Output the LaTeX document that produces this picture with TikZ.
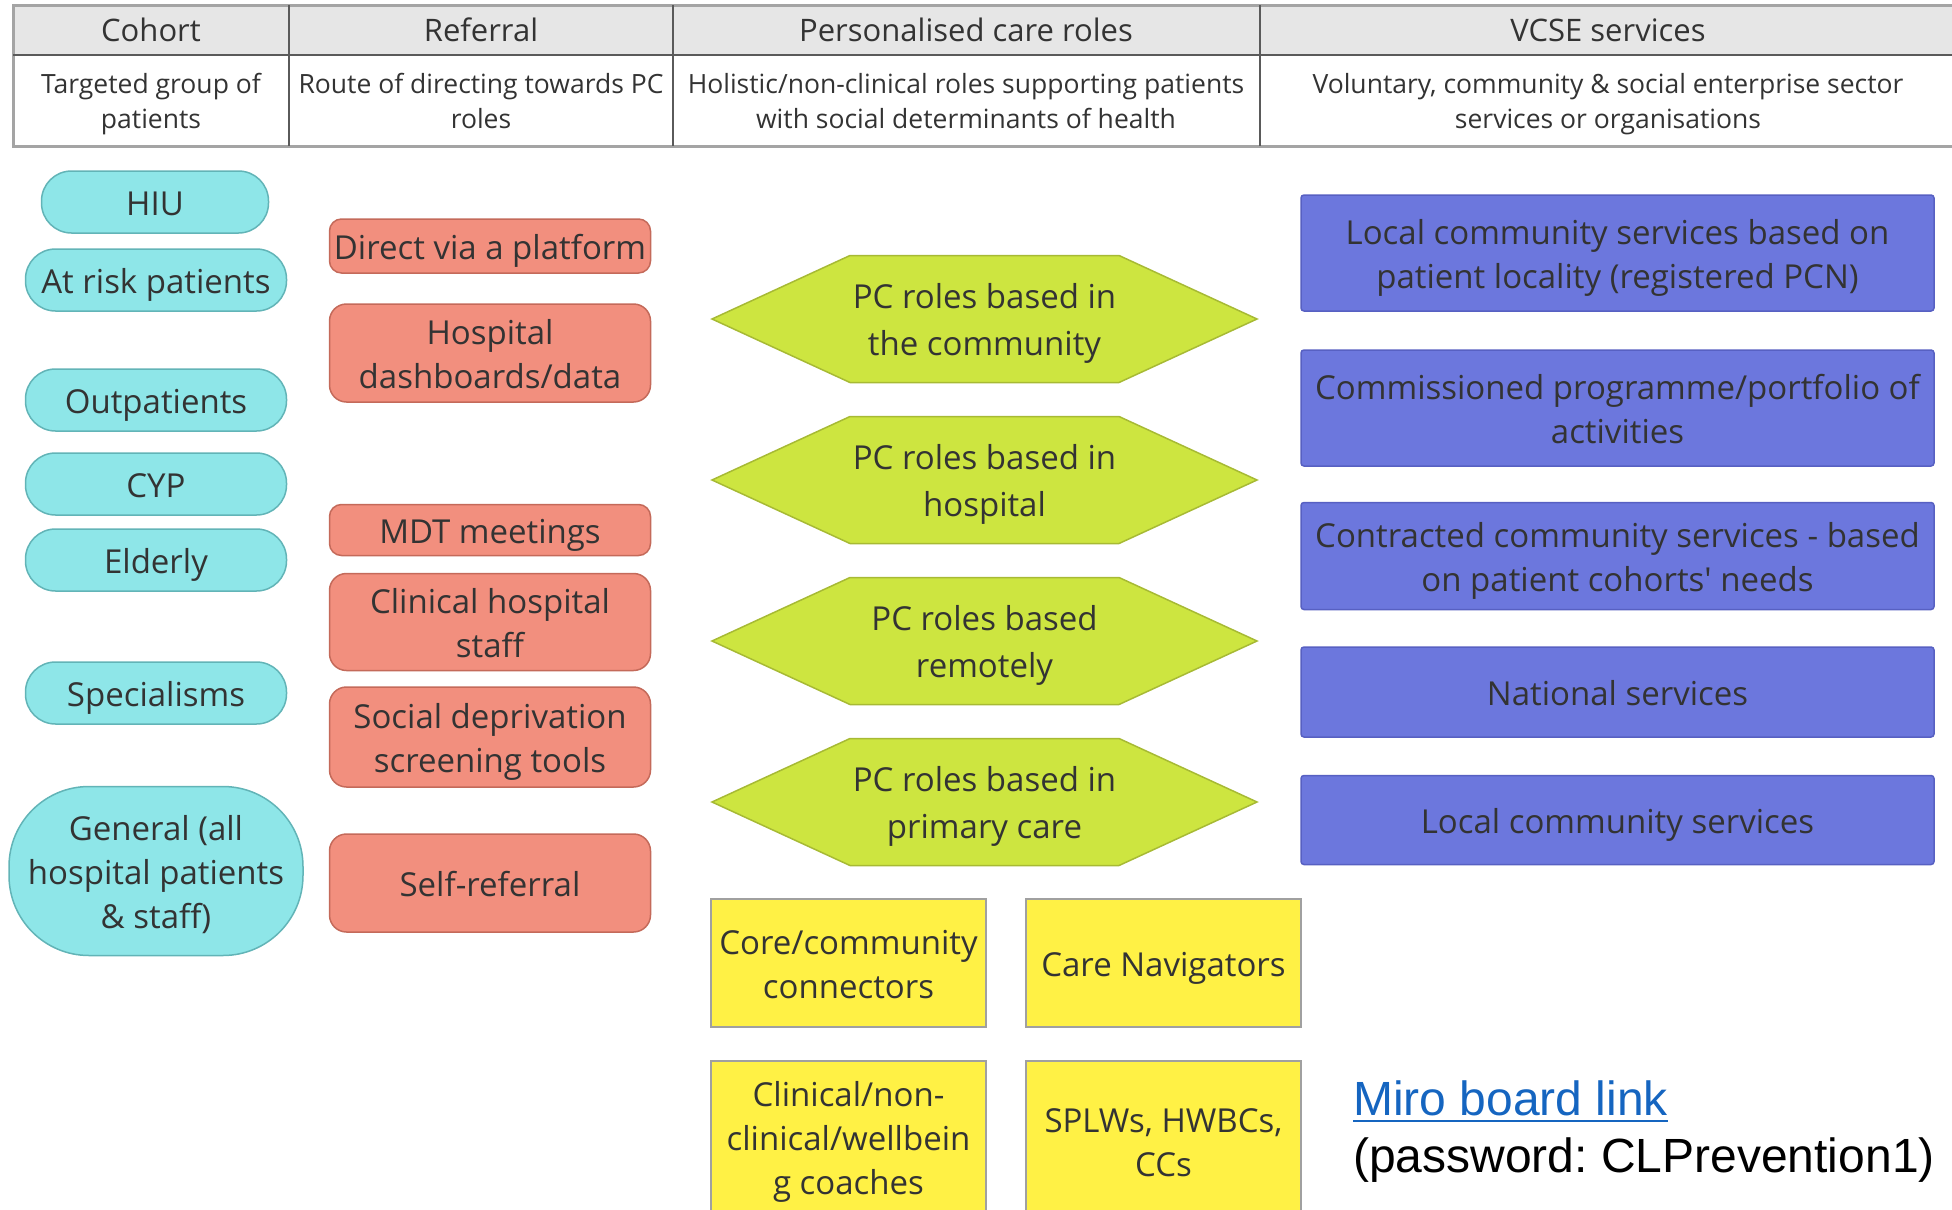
\documentclass[tikz,border=0pt]{standalone}
\usepackage{fontspec}
\setmainfont{Open Sans}
\newfontfamily\arialfont{Liberation Sans}
\usetikzlibrary{positioning}
\frenchspacing
\definecolor{cohortFill}{HTML}{8EE6E8}
\definecolor{cohortLine}{HTML}{62B4B7}
\definecolor{referFill}{HTML}{F28F7E}
\definecolor{referLine}{HTML}{C46A5A}
\definecolor{hexFill}{HTML}{CDE540}
\definecolor{hexLine}{HTML}{A7BA34}
\definecolor{vcseFill}{HTML}{6C77DD}
\definecolor{vcseLine}{HTML}{5760C2}
\definecolor{roleFill}{HTML}{FFF145}
\definecolor{roleLine}{HTML}{A0A0A0}
\definecolor{headFill}{HTML}{E6E6E6}
\definecolor{gridLine}{HTML}{5A5A5A}
\definecolor{txt}{HTML}{333333}
\definecolor{linkBlue}{HTML}{1565C0}
\newcommand{\boxfont}{\fontsize{33}{44}\selectfont}
\newcommand{\hexfont}{\fontsize{33}{47}\selectfont}
\newcommand{\headfont}{\fontsize{31}{36}\selectfont}
\newcommand{\subfont}{\fontsize{26.5}{35}\selectfont}
\newcommand{\notefont}{\arialfont\fontsize{48}{57}\selectfont}
% fixed line boxes, so text sits as in the board
\newcommand{\padtext}[1]{\rule{0pt}{35pt}#1\rule[-9pt]{0pt}{9pt}}
\newcommand{\padsub}[1]{\rule{0pt}{27pt}#1\rule[-8pt]{0pt}{8pt}}

\begin{document}
\begin{tikzpicture}[x=1pt, y=-1pt,
    cohort/.style={draw=cohortLine, fill=cohortFill, line width=1.5pt, rounded corners=30pt, minimum width=261pt, minimum height=62pt, align=center, font=\boxfont, text=txt},
    referral/.style={draw=referLine, fill=referFill, line width=1.5pt, rounded corners=17pt, minimum width=321pt, align=center, font=\boxfont, text=txt},
    hexrole/.style={draw=hexLine, fill=hexFill, line width=1.5pt},
    hextext/.style={align=center, font=\hexfont, text=txt},
    vcse/.style={draw=vcseLine, fill=vcseFill, line width=1.5pt, rounded corners=3pt, minimum width=633pt, align=center, font=\boxfont, text=txt},
    pcrole/.style={draw=roleLine, fill=roleFill, line width=2pt, minimum width=275pt, minimum height=128pt, inner sep=0pt, align=center, font=\boxfont, text=txt},
    headtext/.style={font=\headfont, text=txt},
    subtext/.style={align=center, font=\subfont, text=txt}]
  \useasboundingbox (0,0) rectangle (1952,1210);
  \clip (0,0) rectangle (1952,1210);

  % header table
  \fill[headFill] (13,5) rectangle (1960,55);
  \draw[gridLine!55, line width=3pt] (13,5) rectangle (1960,146);
  \draw[gridLine, line width=1.5pt] (13,55) -- (1960,55);
  \foreach \x in {289,673,1260}
    \draw[gridLine, line width=1.5pt] (\x,5) -- (\x,146);
  \node[headtext] (hcohort) at (151,30) {Cohort};
  \node[headtext] (hrefer) at (481,30) {Referral};
  \node[headtext] (hroles) at (966,30) {Personalised care roles};
  \node[headtext] (hvcse) at (1608,30) {VCSE services};
  \node[subtext] (scohort) at (151,101) {\padsub{Targeted group of\\patients}};
  \node[subtext] (srefer) at (481,101) {\padsub{Route of directing towards PC\\roles}};
  \node[subtext] (sroles) at (966,101) {\padsub{Holistic/non-clinical roles supporting patients\\with social determinants of health}};
  \node[subtext] (svcse) at (1608,101) {\padsub{Voluntary, community \& social enterprise sector\\services or organisations}};

  % cohort
  \node[cohort, minimum width=227pt] (hiu) at (155,202) {\padtext{HIU}};
  \node[cohort] (atrisk) at (156,280) {\padtext{At risk patients}};
  \node[cohort] (outpat) at (156,400) {\padtext{Outpatients}};
  \node[cohort] (cyp) at (156,484) {\padtext{CYP}};
  \node[cohort] (elderly) at (156,560) {\padtext{Elderly}};
  \node[cohort] (special) at (156,693) {\padtext{Specialisms}};
  \node[cohort, minimum width=294pt, minimum height=169pt, rounded corners=80pt] (general) at (156,871) {\padtext{General (all\\hospital patients\\\& staff)}};

  % referral
  \node[referral, minimum height=54pt, rounded corners=12pt] (direct) at (490,246) {\padtext{Direct via a platform}};
  \node[referral, minimum height=98pt] (dash) at (490,353) {\padtext{Hospital\\dashboards/data}};
  \node[referral, minimum height=51pt, rounded corners=12pt] (mdt) at (490,530) {\padtext{MDT meetings}};
  \node[referral, minimum height=97pt] (clinstaff) at (490,622) {\padtext{Clinical hospital\\staff}};
  \node[referral, minimum height=100pt] (screen) at (490,737) {\padtext{Social deprivation\\screening tools}};
  \node[referral, minimum height=98pt] (selfref) at (490,883) {\padtext{Self-referral}};

  % personalised care roles
  \foreach \y/\name/\txt in {319/pccom/{PC roles based in\\the community},
      480/pchosp/{PC roles based in\\hospital},
      641/pcremote/{PC roles based\\remotely},
      802/pcprim/{PC roles based in\\primary care}}{
    \draw[hexrole] (712,\y) -- ++(138,-63.5) -- ++(269,0) -- ++(138,63.5)
      -- ++(-138,63.5) -- ++(-269,0) -- cycle;
    \node[hextext] (\name) at (984.5,\y) {\padtext{\txt}};
  }
  \node[pcrole] (core) at (848.5,963) {\padtext{Core/community\\connectors}};
  \node[pcrole] (navig) at (1163.5,963) {\padtext{Care Navigators}};
  \node[pcrole, minimum height=152pt] (coach) at (848.5,1137) {\padtext{Clinical/non-\\clinical/wellbein\\g coaches}};
  \node[pcrole, minimum height=160pt] (splw) at (1163.5,1141) {\padtext{SPLWs, HWBCs,\\CCs}};

  % vcse services
  \node[vcse, minimum height=116pt] (local) at (1617.5,253) {\padtext{Local community services based on\\patient locality (registered PCN)}};
  \node[vcse, minimum height=116pt] (commis) at (1617.5,408) {\padtext{Commissioned programme/portfolio of\\activities}};
  \node[vcse, minimum height=107pt] (contract) at (1617.5,556) {\padtext{Contracted community services - based\\on patient cohorts\textquotesingle{} needs}};
  \node[vcse, minimum height=90pt] (national) at (1617.5,692) {\padtext{National services}};
  \node[vcse, minimum height=89pt] (localsrv) at (1617.5,820) {\padtext{Local community services}};

  % link note
  \node[font=\notefont, text=linkBlue, anchor=base west, inner sep=0pt] (miro) at (1353,1115) {Miro board link};
  \draw[linkBlue, line width=2.5pt] ([yshift=-6pt]miro.base west) -- ([yshift=-6pt]miro.base east);
  \node[font=\notefont, text=black, anchor=base west, inner sep=0pt] (pwd) at (1353,1172) {(password: CLPrevention1)};
\end{tikzpicture}
\end{document}
